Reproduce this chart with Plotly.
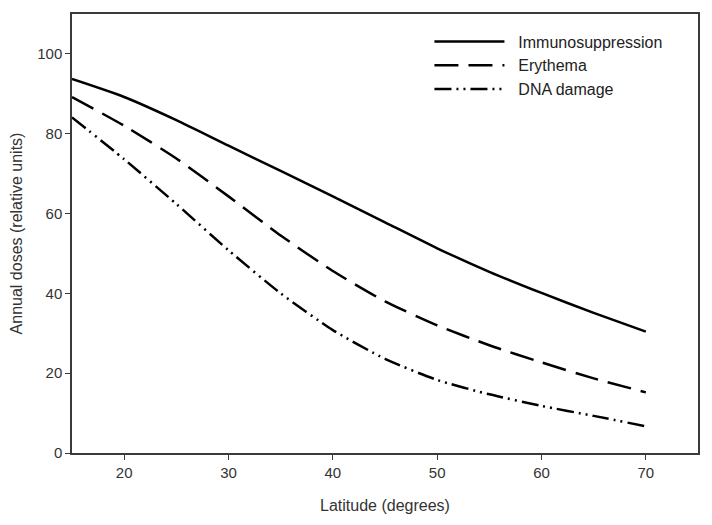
import plotly.graph_objects as go

latitude = [15, 20, 25, 30, 35, 40, 45, 50, 55, 60, 65, 70]
immunosuppression = [93.7, 89.2, 83.4, 77.0, 70.7, 64.3, 57.8, 51.3, 45.4, 40.1, 35.1, 30.4]
erythema = [89.2, 82.0, 73.8, 64.3, 54.5, 45.6, 38.0, 32.0, 27.0, 22.7, 18.7, 15.2]
dna_damage = [84.1, 73.6, 62.4, 50.8, 40.0, 30.8, 23.6, 18.3, 14.7, 11.8, 9.3, 6.7]

x_ticks = [20, 30, 40, 50, 60, 70]
y_ticks = [0, 20, 40, 60, 80, 100]

NB = "\u00a0\u00a0"

fig = go.Figure()
fig.add_trace(go.Scatter(x=latitude, y=immunosuppression, mode="lines", name=NB + "Immunosuppression",
                         line=dict(color="black", width=2.5, shape="spline", smoothing=0.6)))
fig.add_trace(go.Scatter(x=latitude, y=erythema, mode="lines", name=NB + "Erythema",
                         line=dict(color="black", width=2.5, dash="24px,10px", shape="spline", smoothing=0.6)))
fig.add_trace(go.Scatter(x=latitude, y=dna_damage, mode="lines", name=NB + "DNA damage",
                         line=dict(color="black", width=2.5, dash="17px,5px,2px,5px,2px,5px", shape="spline", smoothing=0.6)))

axis_common = dict(showgrid=False, zeroline=False, showline=True, linecolor="#3a3a3a", linewidth=1.5,
                   mirror=True, ticks="outside", ticklen=5, tickcolor="#3a3a3a", tickwidth=1.2,
                   tickfont=dict(family="Liberation Sans, Arial", size=15, color="#333"))

# page body has an 8px default margin, so the figure is sized to fit the 712x525 window
fig.update_layout(
    width=704, height=517,
    margin=dict(l=60, r=14, t=4, b=72),
    plot_bgcolor="white", paper_bgcolor="white",
    font=dict(family="Liberation Sans, Arial", size=15, color="#333"),
    xaxis=dict(range=[15, 75], tickvals=x_ticks,
               title=dict(text="Latitude (degrees)", font=dict(size=16, color="#333"), standoff=20),
               **axis_common),
    yaxis=dict(range=[0, 110], tickvals=y_ticks,
               title=dict(text="Annual doses (relative units)", font=dict(size=16, color="#333"), standoff=14),
               **axis_common),
    legend=dict(x=0.571, y=0.976, xanchor="left", yanchor="top", bgcolor="rgba(0,0,0,0)",
                font=dict(family="Liberation Sans, Arial", size=16, color="#222"),
                itemwidth=70, tracegroupgap=0),
    showlegend=True,
)

fig.write_html("out.html")
